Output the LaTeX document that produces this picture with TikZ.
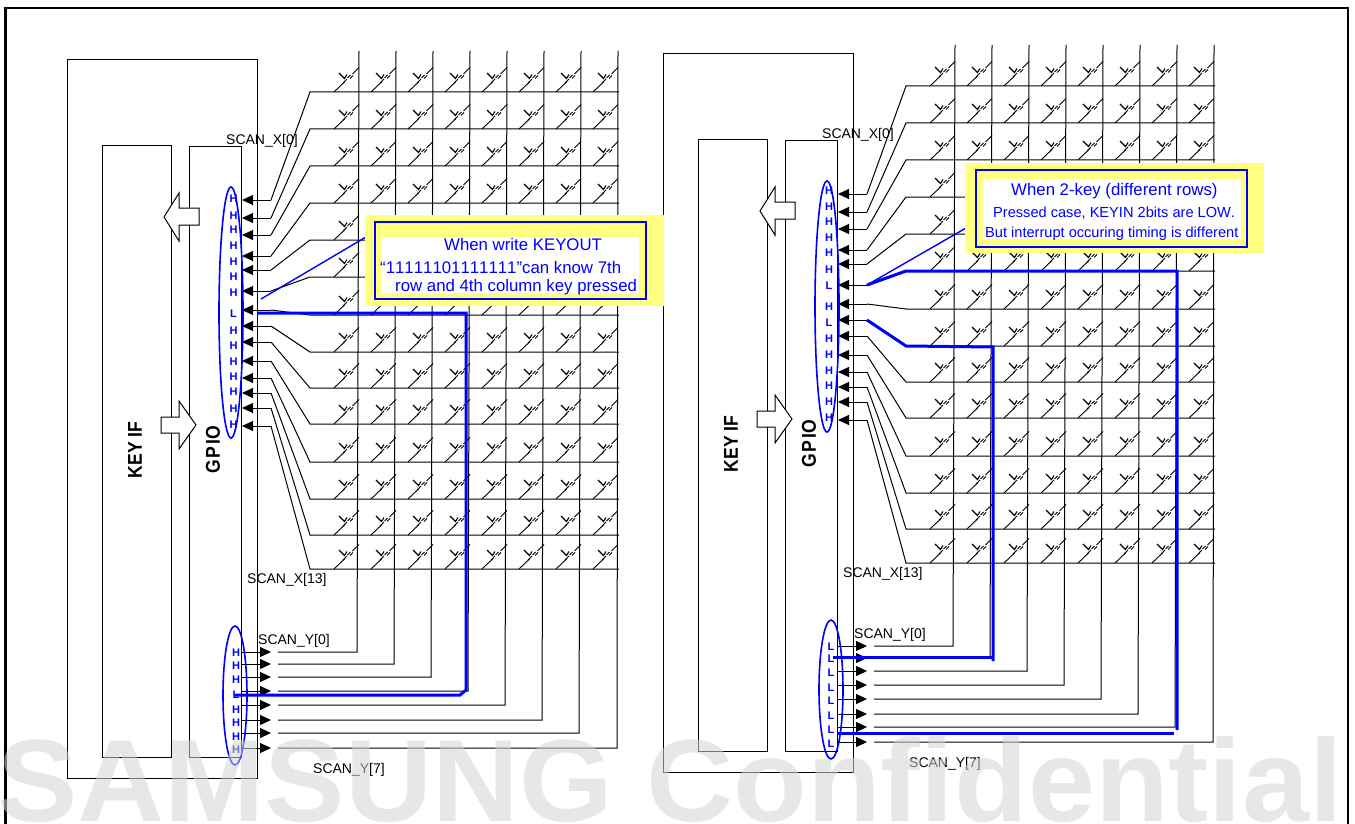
\documentclass[tikz,border=0pt]{standalone}
\usepackage{fontspec}
\setmainfont[Kerning=Off]{Liberation Sans}
\usetikzlibrary{arrows.meta,shapes.geometric}

\definecolor{scanblue}{RGB}{0,0,255}
\definecolor{noteyellow}{RGB}{255,255,128}
\definecolor{markgray}{RGB}{212,212,212}

\tikzset{
  wire/.style={line width=1pt},
  wirearrow/.style={wire,-{Triangle[length=11pt,width=10pt]}},
  blockbox/.style={draw,wire,inner sep=0pt},
  blockarrow/.style={draw,wire,fill=white},
  bluethick/.style={draw=scanblue,line width=3pt},
  bluethin/.style={draw=scanblue,line width=1.4pt},
  scanlabel/.style={inner sep=0pt,anchor=base west,font=\fontsize{14}{16}\selectfont},
  blocklabel/.style={rotate=90,xscale=.88,inner sep=0pt,font=\bfseries\fontsize{20}{22}\selectfont},
  sigmark/.style={text=scanblue,inner sep=0pt,font=\bfseries\fontsize{11}{12}\selectfont},
  sigring/.style={draw=scanblue,line width=1.6pt,ellipse,inner sep=0pt},
  notetext/.style={text=scanblue,inner sep=0pt,anchor=base west},
  keysw/.pic={
    \draw[line width=0.9pt] (-25,0) -- (-14,-10.5);
    \draw[line width=0.9pt] (-16,-9) -- (-12,-13);
    \draw[line width=0.9pt] (-11.5,-14) -- (-8.5,-17);
    \draw[line width=0.9pt] (-9,-13.5) -- (-6,-16.5);
    \draw[line width=0.9pt] (-6.5,-18) -- (0,-24.5);
    \draw[line width=1.1pt] (-20,-19) -- (-14.5,-13.5) -- (-12,-17.5);
  }
}

\begin{document}
\begin{tikzpicture}[x=1pt,y=-1pt]
\useasboundingbox (0,0) rectangle (1355,824);

\coordinate (frameA) at (5.5,824);
\coordinate (frameB) at (5.5,8);
\coordinate (frameC) at (1348,8);
\coordinate (frameD) at (1348,824);
\draw[line width=2.2pt] (frameA) -- (frameB) -- (frameC) -- (frameD);

% both panels are the same apart from the signal letters
\foreach \pfx/\dx/\dy in {L/0/0,R/596/-6}{
\begin{scope}[shift={(\dx,\dy)},name prefix=\pfx-]
  \node[blockbox,minimum width=190.5pt,minimum height=718pt] (chip) at (162.25,419) {};
  \node[blockbox,minimum width=69pt,minimum height=611pt] (keyif) at (136.5,451.5) {};
  \node[blockbox,minimum width=52pt,minimum height=610pt] (gpio) at (215,452) {};
  \node[blocklabel] (keyiftext) at (135,450) {KEY IF};
  \node[blocklabel] (gpiotext) at (213,450) {G\kern2pt P\kern2pt IO};

  % rows
  \foreach \i/\ya/\yr in {1/200/92,2/218/129,3/235/166,4/256/203,5/270/240,6/291/277,7/310/315,
                          8/326/352,9/342/388,10/361/424,11/378/462,12/393/499,13/408/535,14/426/569}{
    \coordinate (elb\i) at (271,\ya);
    \coordinate (tipx\i) at (242,\ya);
    \coordinate (rowstart\i) at (310,\yr);
    \coordinate (rowend\i) at (619,\yr);
    \draw[wirearrow] (elb\i) -- (tipx\i);
    \draw[wire] (elb\i) -- (rowstart\i) -- (rowend\i);
  }

  % columns
  \foreach \c/\xt/\xb/\yb in {1/359/357/652,2/396/394/664,3/433/431/677,4/470/468/691,
                              5/507/505/705,6/544/542/720,7/581/579/733,8/618/617/748}{
    \coordinate (coltop\c) at (\xt,51);
    \coordinate (colbot\c) at (\xb,\yb);
    \coordinate (scanstart\c) at (278,\yb);
    \coordinate (scanfrom\c) at (241,\yb);
    \coordinate (scantip\c) at (271,\yb);
    \draw[wire] (coltop\c) -- (colbot\c) -- (scanstart\c);
    \draw[wirearrow] (scanfrom\c) -- (scantip\c);
  }

  % one key at every crossing
  \foreach \c in {1,...,8}{
    \foreach \i in {1,...,14}{
      \path (coltop\c |- rowend\i) pic {keysw};
    }
  }

  \node[sigring,minimum width=24pt,minimum height=251pt] (ringx) at (231,312.5) {};
  \node[sigring,minimum width=24pt,minimum height=139pt] (ringy) at (235,695.5) {};

  \draw[blockarrow] (199,208) -- (179,208) -- (179,193) -- (164,217) -- (179,241) -- (179,225) -- (199,225) -- cycle;
  \draw[blockarrow] (161,417) -- (179,417) -- (179,401) -- (196,425) -- (179,449) -- (179,433) -- (161,433) -- cycle;

  \node[scanlabel] (scanx0) at (226,145) {SCAN\_X[0]};
  \node[scanlabel] (scanx13) at (247,583) {SCAN\_X[13]};
  \node[scanlabel] (scany0) at (258,644) {SCAN\_Y[0]};
  \node[scanlabel] (scany7) at (313,773) {SCAN\_Y[7]};
\end{scope}
}

% left panel letters
\foreach \i/\lab/\y in {1/H/199,2/H/216,3/H/230,4/H/246,5/H/262,6/H/277,7/H/293,8/L/314,
                        9/H/331,10/H/346,11/H/362,12/H/377,13/H/392,14/H/409,15/H/425}{
  \node[sigmark] (Lsigx\i) at (233.5,\y) {\lab};
}
\foreach \i/\lab/\y in {1/H/653,2/H/666,3/H/680,4/L/695,5/H/710,6/H/723,7/H/737,8/H/750}{
  \node[sigmark] (Lsigy\i) at (236,\y) {\lab};
}

% right panel letters
\foreach \i/\lab/\y in {1/H/191,2/H/207,3/H/222,4/H/238,5/H/253,6/H/270,7/L/286,8/H/307,
                        9/L/323,10/H/339,11/H/355,12/H/371,13/H/386,14/H/402,15/H/418}{
  \node[sigmark] (Rsigx\i) at (829,\y) {\lab};
}
\foreach \i/\lab/\y in {1/L/647,2/L/659,3/L/673,4/L/688,5/L/701,6/L/716,7/L/730,8/L/744}{
  \node[sigmark] (Rsigy\i) at (831,\y) {\lab};
}

% left panel pressed key
\coordinate (Lpress) at (257,313);
\coordinate (Lturn) at (466,313);
\coordinate (Lbend) at (466,690);
\coordinate (Lback) at (460,695);
\coordinate (Lfoot) at (235,695);
\draw[bluethick] (Lpress) -- (Lturn) -- (Lbend) -- (Lback) -- (Lfoot);

% right panel pressed keys
\coordinate (Rturna) at (1177,271);
\coordinate (Rdowna) at (1177,730);
\coordinate (Rbacka) at (1174,733);
\coordinate (Rfoota) at (837,733);
\draw[bluethick] (R-elb6) -- (R-rowstart6) -- (Rturna) -- (Rdowna);
\draw[bluethick] (Rbacka) -- (Rfoota);
\coordinate (Rturnb) at (993,347);
\coordinate (Rdownb) at (993,661);
\coordinate (Rbackb) at (992,657);
\coordinate (Rfootb) at (833,657);
\draw[bluethick] (R-elb8) -- (R-rowstart8) -- (Rturnb) -- (Rdownb);
\draw[bluethick] (Rbackb) -- (Rfootb);

% pointers to the notes
\coordinate (Lptr) at (261,299);
\coordinate (Lptrend) at (366,237);
\coordinate (Rptrend) at (966,228);
\draw[bluethin] (Lptr) -- (Lptrend);
\draw[bluethin] (R-elb6) -- (Rptrend);

% left note
\node[fill=noteyellow,inner sep=0pt,minimum width=299pt,minimum height=91pt] (Lnote) at (514.5,260.5) {};
\node[draw=scanblue,line width=1.5pt,inner sep=0pt,minimum width=271pt,minimum height=77pt] (Lbox) at (510.5,260.5) {};
\node[fill=white,inner sep=0pt,minimum width=258pt,minimum height=56pt] (Lpaper) at (510,265) {};
\node[notetext,font=\fontsize{16.8}{18}\selectfont] (Lline1) at (444,250) {When write KEYOUT};
\node[notetext,font=\fontsize{16.8}{18}\selectfont] (Lline2) at (380,273) {“11111101111111”can know 7th};
\node[notetext,font=\fontsize{16.8}{18}\selectfont] (Lline3) at (395,291) {row and 4th column key pressed};

% right note
\node[fill=noteyellow,inner sep=0pt,minimum width=299pt,minimum height=90pt] (Rnote) at (1114.5,208) {};
\node[draw=scanblue,line width=1.5pt,inner sep=0pt,minimum width=271pt,minimum height=77pt] (Rbox) at (1111.5,208.5) {};
\node[fill=white,inner sep=0pt,minimum width=258pt,minimum height=60pt] (Rpaper) at (1112,209) {};
\node[notetext,font=\fontsize{16.8}{18}\selectfont] (Rline1) at (1011,196) {When 2-key (different rows)};
\node[notetext,font=\fontsize{14.6}{16}\selectfont] (Rline2) at (993,217) {Pressed case, KEYIN 2bits are LOW.};
\node[notetext,font=\fontsize{14.6}{16}\selectfont] (Rline3) at (985,237) {But interrupt occuring timing is different};

% watermark lies over everything
\node[anchor=base west,inner sep=0pt,xscale=1.03,text=markgray,text opacity=0.55,font=\bfseries\fontsize{117}{125}\selectfont] (mark) at (-3,821) {SAMSUNG Confidential};
\end{tikzpicture}
\end{document}
